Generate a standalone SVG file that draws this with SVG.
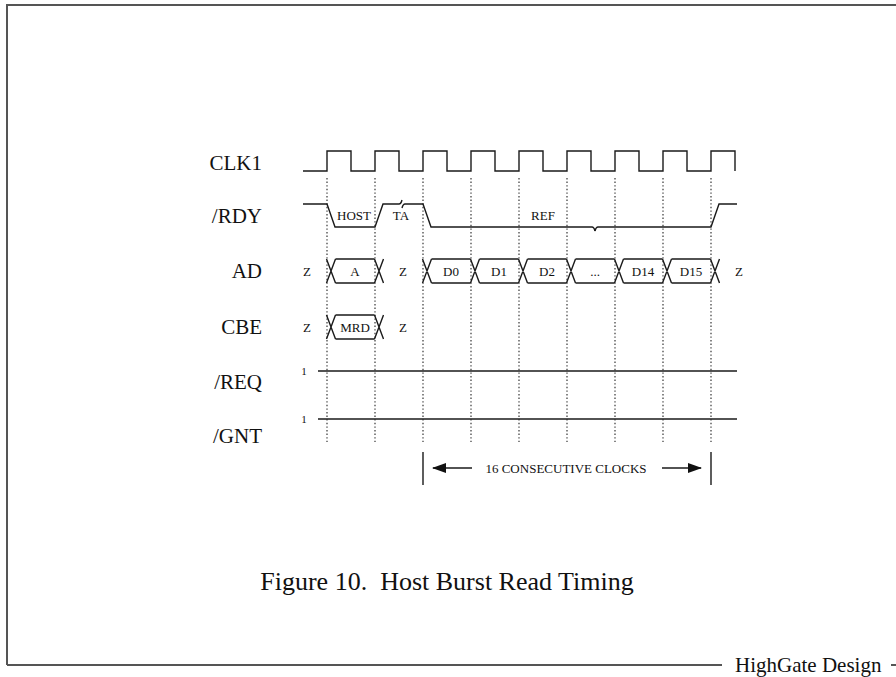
<svg xmlns="http://www.w3.org/2000/svg" width="896" height="677" viewBox="0 0 896 677">
<style>
.frame{fill:none;stroke:#555;stroke-width:2}
.sig{fill:none;stroke:#1a1a1a;stroke-width:1.4}
.dot{fill:none;stroke:#222;stroke-width:1.1;stroke-dasharray:1.4 2.2}
.lbl{font-family:"Liberation Serif","Times New Roman",serif;font-size:21px;fill:#111;text-anchor:end}
.sm{font-family:"Liberation Serif","Times New Roman",serif;font-size:13px;fill:#111;text-anchor:middle}
.one{font-family:"Liberation Serif","Times New Roman",serif;font-size:11px;fill:#111;text-anchor:middle}
.cap{font-family:"Liberation Serif","Times New Roman",serif;font-size:26px;fill:#111;text-anchor:middle}
.foot{font-family:"Liberation Serif","Times New Roman",serif;font-size:21px;fill:#111}
</style>
<defs>
<marker id="ah" viewBox="0 0 14 10" refX="13" refY="5" markerWidth="14" markerHeight="10" markerUnits="userSpaceOnUse" orient="auto">
<path d="M0,0 L14,5 L0,10 Z" fill="#111"/>
</marker>
</defs>
<rect width="896" height="677" fill="#fff"/>
<g id="frame">
<path class="frame" d="M7,665 V5 H896"/>
<path class="frame" d="M7,665 H722"/>
<path class="frame" d="M891,665 H896"/>
<text class="foot" x="735" y="671.5">HighGate Design</text>
</g>
<g id="labels">
<text class="lbl" x="262" y="170">CLK1</text>
<text class="lbl" x="262" y="223">/RDY</text>
<text class="lbl" x="262" y="278">AD</text>
<text class="lbl" x="262" y="334">CBE</text>
<text class="lbl" x="262" y="389">/REQ</text>
<text class="lbl" x="262" y="443">/GNT</text>
</g>
<g id="connectors">
<path class="dot" d="M327,178 V442 M375,178 V442 M423,178 V442 M471,178 V442 M519,178 V442 M567,178 V442 M615,178 V442 M663,178 V442 M711,178 V442"/>
</g>
<g id="clk1">
<path class="sig" d="M303,171 H327 V151 H351 V171 H375 V151 H399 V171 H423 V151 H447 V171 H471 V151 H495 V171 H519 V151 H543 V171 H567 V151 H591 V171 H615 V151 H639 V171 H663 V151 H687 V171 H711 V151 H735 V171"/>
</g>
<g id="rdy">
<path class="sig" d="M303,204 H327 L335,227 H375 L383,204 H399 q2,0 3,-4"/>
<path class="sig" d="M402,208 q1,-4 3,-4 H423 L431,227 H592 q2,0 3,4"/>
<path class="sig" d="M595,231 q1,-4 3,-4 H711 L719,204 H737"/>
<text class="sm" x="354" y="220">HOST</text>
<text class="sm" x="401" y="220">TA</text>
<text class="sm" x="543" y="220">REF</text>
</g>
<g id="ad">
<path class="sig" d="M326.5,259 L335.5,283 M326.5,283 L335.5,259 M335.5,259 H374.5 M335.5,283 H374.5 M374.5,259 L383.5,283 M374.5,283 L383.5,259"/>
<path class="sig" d="M422.5,259 L431.5,283 M422.5,283 L431.5,259 M470.5,259 L479.5,283 M470.5,283 L479.5,259 M518.5,259 L527.5,283 M518.5,283 L527.5,259 M566.5,259 L575.5,283 M566.5,283 L575.5,259 M614.5,259 L623.5,283 M614.5,283 L623.5,259 M662.5,259 L671.5,283 M662.5,283 L671.5,259 M710.5,259 L719.5,283 M710.5,283 L719.5,259"/>
<path class="sig" d="M431.5,259 H470.5 M431.5,283 H470.5 M479.5,259 H518.5 M479.5,283 H518.5 M527.5,259 H566.5 M527.5,283 H566.5 M575.5,259 H614.5 M575.5,283 H614.5 M623.5,259 H662.5 M623.5,283 H662.5 M671.5,259 H710.5 M671.5,283 H710.5"/>
<text class="sm" x="307" y="276">Z</text>
<text class="sm" x="355" y="276">A</text>
<text class="sm" x="403" y="276">Z</text>
<text class="sm" x="451" y="276">D0</text>
<text class="sm" x="499" y="276">D1</text>
<text class="sm" x="547" y="276">D2</text>
<text class="sm" x="595" y="276">...</text>
<text class="sm" x="643" y="276">D14</text>
<text class="sm" x="691" y="276">D15</text>
<text class="sm" x="739" y="276">Z</text>
</g>
<g id="cbe">
<path class="sig" d="M326.5,315 L335.5,339 M326.5,339 L335.5,315 M335.5,315 H374.5 M335.5,339 H374.5 M374.5,315 L383.5,339 M374.5,339 L383.5,315"/>
<text class="sm" x="307" y="332">Z</text>
<text class="sm" x="355" y="332">MRD</text>
<text class="sm" x="403" y="332">Z</text>
</g>
<g id="req">
<path class="sig" d="M318,371 H737"/>
<text class="one" x="304" y="375">1</text>
</g>
<g id="gnt">
<path class="sig" d="M318,419 H737"/>
<text class="one" x="304" y="423">1</text>
</g>
<g id="span">
<path class="sig" d="M423,452 V485 M711,452 V485"/>
<path class="sig" d="M472,468 H433" stroke-width="1.6" marker-end="url(#ah)"/>
<path class="sig" d="M662,468 H701" stroke-width="1.6" marker-end="url(#ah)"/>
<text class="sm" x="566" y="472.5">16 CONSECUTIVE CLOCKS</text>
</g>
<g id="caption">
<text class="cap" x="447" y="590" xml:space="preserve">Figure 10.  Host Burst Read Timing</text>
</g>
</svg>
